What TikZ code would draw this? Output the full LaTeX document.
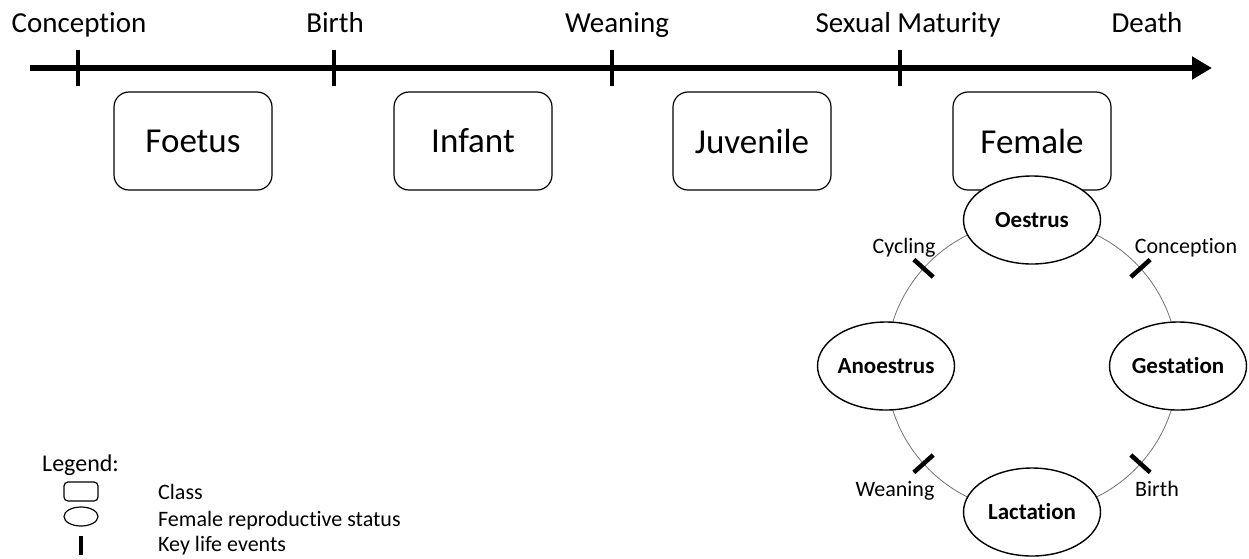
\documentclass[tikz,border=0pt]{standalone}
\usepackage{fontspec}
\setmainfont{Carlito}[Ligatures={NoCommon,NoContextual},Contextuals=NoAlternate]
\usetikzlibrary{shapes.geometric,arrows.meta,backgrounds,calc}
\begin{document}
\begin{tikzpicture}[x=1pt,y=-1pt,
  classbox/.style={draw,line width=1.2pt,rounded corners=15pt,minimum width=158pt,minimum height=98pt,inner sep=0pt,fill=white,font=\fontsize{35}{40}\selectfont},
  status/.style={draw,ellipse,line width=1.4pt,minimum width=137pt,minimum height=88pt,inner sep=0pt,fill=white,font=\fontsize{23}{26}\selectfont\bfseries},
  tlabel/.style={anchor=base,font=\fontsize{29}{34}\selectfont,inner sep=0pt},
  slabel/.style={anchor=base,font=\fontsize{22}{26}\selectfont,inner sep=0pt},
  leglabel/.style={anchor=base west,font=\fontsize{22}{26}\selectfont,inner sep=0pt},
  cyc/.style={line width=0.8pt,draw=black!55},
  evtick/.style={line width=4.5pt},
  tltick/.style={line width=4.5pt},
  timeline/.style={line width=6pt,-{Triangle[length=20pt,width=22pt]}}
]
\useasboundingbox (0,0) rectangle (1249,558);

% timeline
\coordinate (t0) at (30,68);
\coordinate (t1) at (1212,68);
\draw[timeline] (t0) -- (t1);
\foreach \x/\n in {78/a,334/b,612/c,900/d}{
  \coordinate (tk\n) at (\x,68);
  \draw[tltick] ($(tk\n)+(0,-18)$) -- ($(tk\n)+(0,18)$);
}
\node[tlabel] (lconc) at (79,32) {Conception};
\node[tlabel] (lbirth) at (335,32) {Birth};
\node[tlabel] (lwean) at (617,32) {Weaning};
\node[tlabel] (lsex) at (908,32) {Sexual Maturity};
\node[tlabel] (ldeath) at (1147,32) {Death};

% classes
\node[classbox] (foetus) at (193,141) {Foetus};
\node[classbox] (infant) at (473,141) {Infant};
\node[classbox] (juvenile) at (752,141) {Juvenile};
\node[classbox] (female) at (1032,141) {Female};

% reproductive cycle
\node[status] (o) at (1032,220) {Oestrus};
\node[status] (g) at (1178,366) {Gestation};
\node[status] (l) at (1032,512) {Lactation};
\node[status] (an) at (886,366) {Anoestrus};
\coordinate (c) at ($(o.center)!0.5!(l.center)$);

\begin{scope}[on background layer]
\draw[cyc] (o.center) .. controls ($(o.center)+(80.6,0)$) and ($(g.center)+(0,-80.6)$) .. (g.center);
\draw[cyc] (g.center) .. controls ($(g.center)+(0,80.6)$) and ($(l.center)+(80.6,0)$) .. (l.center);
\draw[cyc] (l.center) .. controls ($(l.center)+(-80.6,0)$) and ($(an.center)+(0,80.6)$) .. (an.center);
\draw[cyc] (an.center) .. controls ($(an.center)+(0,-80.6)$) and ($(o.center)+(-80.6,0)$) .. (o.center);
\end{scope}

\foreach \a in {-138,-42,138,42}{
  \draw[evtick] ($(c)+(\a:133)$) -- ($(c)+(\a:159)$);
}
\node[slabel] (ecyc) at (904,253) {Cycling};
\node[slabel] (econc) at (1186,253) {Conception};
\node[slabel] (ewean) at (895,496) {Weaning};
\node[slabel] (ebirth) at (1157,496) {Birth};

% legend
\node[anchor=base west,inner sep=0pt,font=\fontsize{24}{28}\selectfont] (legend) at (42,471) {Legend:};
\node[draw,line width=1.2pt,rounded corners=4pt,minimum width=34pt,minimum height=19pt,inner sep=0pt] (lgbox) at (81,491.5) {};
\node[draw,ellipse,line width=1.2pt,minimum width=34pt,minimum height=19pt,inner sep=0pt] (lgell) at (81,516.5) {};
\node[fill=black,minimum width=4pt,minimum height=19pt,inner sep=0pt] (lgbar) at (81,545.5) {};
\node[leglabel] (lgt1) at (158,499) {Class};
\node[leglabel] (lgt2) at (158,526) {Female reproductive status};
\node[leglabel] (lgt3) at (158,551) {Key life events};
\end{tikzpicture}
\end{document}
